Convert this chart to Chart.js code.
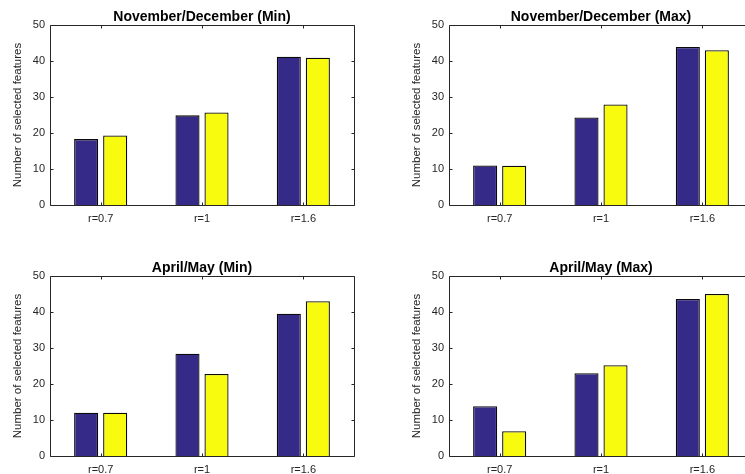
<!DOCTYPE html>
<html>
<head>
<meta charset="utf-8">
<script src="https://cdn.jsdelivr.net/npm/chart.js@4/dist/chart.umd.min.js"></script>
<style>
  html, body { margin: 0; padding: 0; background: #ffffff; overflow: hidden; }
  body { width: 745px; height: 474px; position: relative; }
  canvas { position: absolute; }
</style>
</head>
<body>
<canvas id="c0" width="372" height="237" style="left:0px;top:0px;"></canvas>
<canvas id="c1" width="372" height="237" style="left:399px;top:0px;"></canvas>
<canvas id="c2" width="372" height="237" style="left:0px;top:251px;"></canvas>
<canvas id="c3" width="372" height="237" style="left:399px;top:251px;"></canvas>
<script>
// Category (radius) labels shared by every panel
const categories = ['r=0.7', 'r=1', 'r=1.6'];
const yTicks = [0, 10, 20, 30, 40, 50];

// Panel titles
const panelTitles = [
  'November/December (Min)',
  'November/December (Max)',
  'April/May (Min)',
  'April/May (Max)'
];

// Number of selected features, first (blue) and second (yellow) series per panel
const novDecMinBlue   = [18.3, 24.9, 41.2];
const novDecMinYellow = [19.3, 25.7, 40.9];
const novDecMaxBlue   = [11.0, 24.3, 43.9];
const novDecMaxYellow = [10.9, 27.9, 43.0];
const aprMayMinBlue   = [12.0, 28.4, 39.5];
const aprMayMinYellow = [12.0, 22.8, 43.0];
const aprMayMaxBlue   = [13.8, 23.0, 43.6];
const aprMayMaxYellow = [6.9, 25.2, 45.0];

const panels = [
  [novDecMinBlue, novDecMinYellow],
  [novDecMaxBlue, novDecMaxYellow],
  [aprMayMinBlue, aprMayMinYellow],
  [aprMayMaxBlue, aprMayMaxYellow]
];

const AXIS_COLOR = '#262626';
const FONT = '"Liberation Sans", Arial, Helvetica, sans-serif';

// Boxed axes with short inward tick marks on all four sides
const boxTicks = {
  id: 'boxTicks',
  afterDatasetsDraw(chart) {
    const { ctx, chartArea: a, scales: { x, y } } = chart;
    const L = Math.round(a.left) + 0.5, R = Math.round(a.right) + 0.5;
    const T = Math.round(a.top) + 0.5, B = Math.round(a.bottom) + 0.5;
    const len = 3;
    ctx.save();
    ctx.strokeStyle = AXIS_COLOR;
    ctx.lineWidth = 1;
    ctx.beginPath();
    ctx.rect(L, T, R - L, B - T);
    y.ticks.forEach((t, i) => {
      const py = Math.round(y.getPixelForTick(i)) + 0.5;
      ctx.moveTo(L, py); ctx.lineTo(L + len, py);
      ctx.moveTo(R, py); ctx.lineTo(R - len, py);
    });
    x.ticks.forEach((t, i) => {
      const px = Math.round(x.getPixelForTick(i)) + 0.5;
      ctx.moveTo(px, B); ctx.lineTo(px, B - len);
      ctx.moveTo(px, T); ctx.lineTo(px, T + len);
    });
    ctx.stroke();
    ctx.restore();
  }
};

function makeChart(id, title, blue, yellow) {
  return new Chart(document.getElementById(id), {
    type: 'bar',
    data: {
      labels: categories,
      datasets: [
        { data: blue, backgroundColor: '#352a87', borderColor: '#0a0a0a', borderWidth: 1.3,
          categoryPercentage: 0.573, barPercentage: 0.83 },
        { data: yellow, backgroundColor: '#f9fb0e', borderColor: '#0a0a0a', borderWidth: 1.3,
          categoryPercentage: 0.573, barPercentage: 0.83 }
      ]
    },
    options: {
      responsive: false,
      animation: false,
      devicePixelRatio: 1,
      layout: { padding: { left: 0, right: 18, top: 0, bottom: 0 } },
      plugins: {
        legend: { display: false },
        tooltip: { enabled: false },
        title: {
          display: true,
          fullSize: false,
          text: title,
          color: '#000000',
          font: { family: FONT, size: 14, weight: 'bold', lineHeight: 1 },
          padding: { top: 10.5, bottom: 0.5 }
        }
      },
      scales: {
        x: {
          type: 'category',
          offset: true,
          grid: { display: false, drawTicks: false },
          border: { display: false },
          ticks: { color: AXIS_COLOR, padding: 7, font: { family: FONT, size: 11 } },
          afterFit(s) { s.height = 32; }
        },
        y: {
          min: 0,
          max: 50,
          afterBuildTicks(s) { s.ticks = yTicks.map(v => ({ value: v })); },
          grid: { display: false, drawTicks: false },
          border: { display: false },
          ticks: { color: AXIS_COLOR, padding: 5, font: { family: FONT, size: 11 } },
          title: {
            display: true,
            text: 'Number of selected features',
            color: AXIS_COLOR,
            font: { family: FONT, size: 11.5, lineHeight: 1.2 },
            padding: { top: 11, bottom: 0 }
          },
          afterFit(s) { s.width = 50; }
        }
      }
    },
    plugins: [boxTicks]
  });
}

panels.forEach((p, i) => makeChart('c' + i, panelTitles[i], p[0], p[1]));
</script>
</body>
</html>
